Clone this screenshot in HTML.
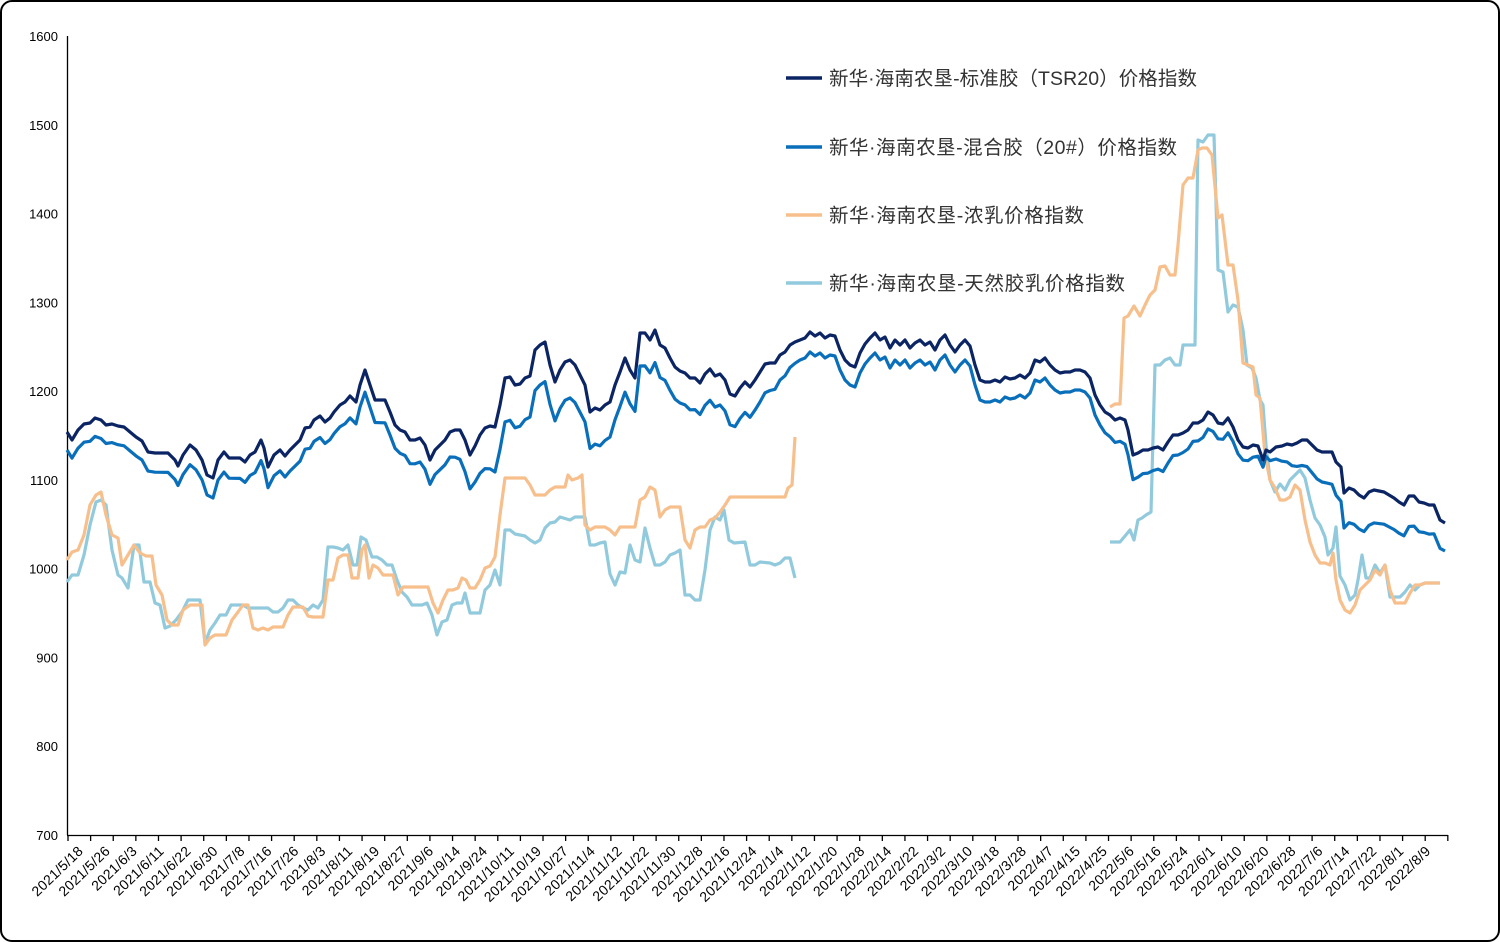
<!DOCTYPE html>
<html><head><meta charset="utf-8"><style>
html,body{margin:0;padding:0;background:#fff}
#f{position:absolute;left:0;top:0;width:1496px;height:938px;border:2px solid #000;border-radius:12px;overflow:hidden}
svg text{font-family:"Liberation Sans","Noto Sans CJK SC",sans-serif}
</style></head><body>
<div id="f"></div>
<svg id="s" width="1500" height="942" style="position:absolute;left:0;top:0">
<g id="ax"></g>
<g fill="none" stroke-width="3.2" stroke-linejoin="round">
<polyline id="lb1" stroke="#92cadd"/>
<polyline id="lb2" stroke="#92cadd"/>
<polyline id="or1" stroke="#f7bf8c"/>
<polyline id="or2" stroke="#f7bf8c"/>
<polyline id="bl" stroke="#0a6fba"/>
<polyline id="nv" stroke="#0b2463"/>
</g>
<g stroke-width="3.5">
<line x1="786" y1="78" x2="822" y2="78" stroke="#0b2463"/>
<line x1="786" y1="147" x2="822" y2="147" stroke="#0a6fba"/>
<line x1="786" y1="215" x2="822" y2="215" stroke="#f7bf8c"/>
<line x1="786" y1="283" x2="822" y2="283" stroke="#92cadd"/>
</g>
<g font-size="19.5" fill="#333">
<text x="829" y="85" textLength="368">新华·海南农垦-标准胶（TSR20）价格指数</text>
<text x="829" y="154" textLength="348">新华·海南农垦-混合胶（20#）价格指数</text>
<text x="829" y="222" textLength="255">新华·海南农垦-浓乳价格指数</text>
<text x="829" y="290" textLength="296">新华·海南农垦-天然胶乳价格指数</text>
</g>
</svg>
<script>
function P(id,a){document.getElementById(id).setAttribute('points',a.map(p=>p.join(',')).join(' '));}
const nv=[[67,432],[72,440],[78,430],[84,424],[90,423],[95,418],[101,420],[106,425],[112,424],[118,426],[124,427],[130,432],[136,437],[142,441],[148,452],[155,453],[162,453],[168,453],[175,460],[178,466],[183,455],[190,445],[196,450],[202,460],[207,475],[213,478],[218,460],[224,452],[229,458],[234,458],[240,458],[245,462],[250,455],[255,452],[261,440],[264,448],[268,467],[274,455],[280,450],[285,456],[290,450],[295,445],[300,440],[305,428],[310,427],[314,420],[320,416],[325,422],[330,418],[334,412],[340,405],[345,402],[350,396],[356,402],[360,385],[365,370],[370,385],[375,400],[380,400],[385,400],[390,412],[395,425],[400,430],[405,432],[410,440],[415,440],[420,438],[425,445],[430,460],[435,450],[440,445],[445,440],[450,432],[455,430],[460,430],[465,440],[470,455],[475,446],[480,435],[485,428],[490,426],[495,427],[500,405],[505,378],[510,377],[515,385],[520,384],[525,378],[530,376],[535,350],[540,345],[545,342],[550,365],[555,382],[560,370],[565,362],[570,360],[575,365],[580,375],[585,385],[590,412],[595,408],[600,410],[605,405],[610,402],[615,385],[620,372],[625,358],[630,370],[635,378],[640,333],[645,333],[650,340],[655,330],[660,345],[665,348],[670,358],[675,367],[680,371],[685,373],[690,378],[695,378],[700,383],[705,374],[710,369],[715,376],[720,374],[725,380],[730,394],[735,396],[740,388],[745,382],[750,387],[755,380],[760,372],[765,364],[770,363],[775,363],[780,355],[785,352],[790,345],[795,342],[800,340],[805,338],[810,332],[815,336],[820,333],[825,338],[830,335],[835,336],[840,350],[845,360],[850,365],[855,367],[860,353],[865,344],[870,338],[875,333],[880,340],[885,337],[890,348],[895,340],[900,345],[905,340],[910,348],[915,343],[920,340],[925,345],[930,342],[935,350],[940,340],[945,335],[950,345],[955,352],[960,345],[965,340],[970,346],[975,365],[980,380],[985,382],[990,382],[995,380],[1000,382],[1005,377],[1010,379],[1015,378],[1020,375],[1025,378],[1030,373],[1035,360],[1040,362],[1045,358],[1050,365],[1055,370],[1060,373],[1065,372],[1070,372],[1075,370],[1080,370],[1085,372],[1090,378],[1095,395],[1100,405],[1105,412],[1110,415],[1115,420],[1120,418],[1125,420],[1128,430],[1133,455],[1138,453],[1143,450],[1148,450],[1153,448],[1158,447],[1163,450],[1168,442],[1173,435],[1178,435],[1183,433],[1188,430],[1193,423],[1198,423],[1203,420],[1208,412],[1213,415],[1218,423],[1223,424],[1228,418],[1233,427],[1238,440],[1243,447],[1248,448],[1253,445],[1258,446],[1263,460],[1266,450],[1270,452],[1276,447],[1282,446],[1287,444],[1292,445],[1297,443],[1302,440],[1307,440],[1312,445],[1317,450],[1322,452],[1327,452],[1332,452],[1336,462],[1341,467],[1344,493],[1349,488],[1354,490],[1359,495],[1364,498],[1369,492],[1374,490],[1379,491],[1384,492],[1389,495],[1394,498],[1399,502],[1404,505],[1409,496],[1414,496],[1419,502],[1424,503],[1429,505],[1434,505],[1440,520],[1445,523]];
const off=[[67,18],[360,22],[450,25],[495,45],[540,40],[640,33],[760,30],[800,20],[1100,20],[1130,25],[1255,12],[1265,6],[1300,25],[1344,35],[1445,28]];
function o(x){for(let i=1;i<off.length;i++){if(x<=off[i][0]){const a=off[i-1],b=off[i];return a[1]+(b[1]-a[1])*(x-a[0])/(b[0]-a[0]);}}return off[off.length-1][1];}
P('nv',nv);P('bl',nv.map(p=>[p[0],+(p[1]+o(p[0])).toFixed(1)]));
P('or1',[[67,560],[72,552],[78,550],[84,535],[90,505],[96,495],[101,492],[106,515],[112,535],[118,538],[122,565],[128,555],[134,545],[140,553],[146,556],[152,556],[156,585],[162,595],[167,620],[172,625],[178,625],[183,610],[190,605],[196,605],[202,605],[205,645],[210,638],[215,635],[220,635],[226,635],[232,620],[238,612],[243,605],[248,605],[253,628],[258,630],[263,628],[268,630],[273,627],[278,627],[283,627],[288,615],[293,607],[298,607],[303,607],[308,616],[313,617],[318,617],[323,617],[328,580],[333,580],[338,558],[343,555],[348,555],[352,578],[358,578],[362,550],[365,545],[369,578],[373,565],[378,568],[383,575],[388,575],[393,575],[398,595],[403,587],[408,587],[413,587],[418,587],[423,587],[428,587],[433,603],[438,613],[443,600],[448,590],[453,590],[458,588],[462,578],[466,580],[470,588],[475,588],[480,580],[485,568],[490,566],[495,557],[500,515],[505,478],[510,478],[515,478],[520,478],[525,478],[530,485],[535,495],[540,495],[545,495],[550,490],[555,487],[560,487],[565,487],[568,475],[572,480],[578,478],[582,475],[585,525],[590,530],[595,527],[600,527],[605,527],[610,530],[615,535],[620,527],[625,527],[630,527],[635,527],[640,500],[645,497],[650,487],[655,490],[660,517],[665,510],[670,507],[675,507],[680,507],[685,540],[690,548],[695,530],[700,527],[705,527],[710,520],[715,518],[720,512],[725,505],[730,497],[785,497],[788,488],[792,485],[795,437]]);
P('lb1',[[67,582],[72,575],[78,575],[84,555],[90,525],[96,502],[101,500],[106,505],[112,550],[118,575],[122,578],[128,588],[134,545],[139,545],[144,582],[150,582],[155,603],[160,605],[165,628],[170,626],[176,620],[182,612],[188,600],[194,600],[200,600],[205,643],[210,630],[215,623],[220,615],[226,615],[231,605],[237,605],[243,605],[248,608],[268,608],[273,612],[278,612],[283,608],[288,600],[293,600],[298,605],[303,608],[308,610],[313,605],[318,608],[323,600],[328,547],[333,547],[338,548],[343,550],[348,545],[353,565],[357,565],[361,537],[366,540],[372,557],[377,557],[382,560],[387,565],[392,565],[397,580],[402,592],[407,597],[412,605],[422,605],[427,603],[432,615],[437,635],[442,622],[447,620],[452,605],[457,603],[462,603],[465,593],[470,613],[480,613],[485,590],[490,585],[495,570],[500,585],[505,530],[510,530],[515,534],[520,535],[525,536],[530,540],[535,543],[540,540],[545,528],[550,523],[555,522],[560,517],[570,520],[575,517],[585,517],[590,545],[595,545],[600,543],[605,542],[610,574],[615,585],[620,572],[625,573],[630,545],[635,560],[640,562],[645,528],[650,548],[655,565],[660,565],[665,562],[670,555],[675,553],[680,550],[685,595],[690,595],[695,600],[700,600],[705,570],[710,530],[715,517],[720,520],[724,510],[729,540],[734,543],[745,542],[750,565],[755,565],[760,562],[770,563],[775,565],[780,563],[785,558],[790,558],[795,578]]);
P('or2',[[1110,407],[1115,404],[1120,404],[1124,318],[1128,316],[1134,306],[1140,316],[1145,305],[1150,295],[1155,290],[1160,267],[1165,266],[1170,275],[1175,275],[1178,245],[1183,185],[1188,178],[1193,178],[1198,150],[1202,148],[1207,148],[1212,155],[1218,218],[1222,215],[1228,265],[1233,265],[1238,300],[1243,363],[1248,365],[1253,367],[1256,395],[1260,398],[1265,455],[1270,480],[1275,488],[1280,500],[1285,500],[1290,497],[1295,485],[1300,490],[1305,520],[1310,542],[1315,555],[1320,563],[1325,563],[1330,565],[1333,553],[1336,580],[1340,600],[1345,610],[1350,613],[1355,605],[1360,590],[1365,585],[1370,580],[1375,570],[1380,575],[1385,565],[1390,590],[1395,603],[1405,603],[1410,593],[1415,585],[1420,585],[1425,583],[1440,583]]);
P('lb2',[[1110,542],[1120,542],[1125,536],[1130,530],[1134,540],[1138,520],[1142,518],[1146,515],[1151,512],[1155,365],[1160,365],[1165,360],[1170,358],[1175,365],[1180,365],[1183,345],[1195,345],[1198,140],[1203,142],[1208,135],[1214,135],[1218,270],[1223,272],[1228,312],[1233,305],[1238,307],[1243,330],[1247,365],[1252,368],[1256,378],[1260,400],[1263,405],[1266,445],[1270,480],[1275,492],[1280,484],[1285,490],[1290,480],[1295,475],[1300,470],[1305,478],[1310,500],[1315,518],[1320,525],[1325,537],[1328,555],[1333,548],[1336,527],[1340,576],[1345,585],[1350,600],[1355,595],[1358,580],[1362,555],[1366,578],[1370,578],[1375,565],[1380,573],[1385,565],[1390,597],[1400,597],[1405,592],[1410,585],[1415,590],[1420,585],[1425,583],[1440,583]]);
let h='<line x1="67.5" y1="36" x2="67.5" y2="835" stroke="#000" stroke-width="1.3"/><line x1="67" y1="835.5" x2="1448" y2="835.5" stroke="#000" stroke-width="1.3"/>';
for(let v=700;v<=1600;v+=100){const y=835-(v-700)*0.8878;h+=`<text x="58" y="${y+5}" font-size="13" text-anchor="end" fill="#000">${v}</text>`;}
for(let i=0;i<=61;i++){const x=68+i*22.62;h+=`<line x1="${x}" y1="835" x2="${x}" y2="841" stroke="#000" stroke-width="1.3"/>`;}
const L="2021/5/18,2021/5/26,2021/6/3,2021/6/11,2021/6/22,2021/6/30,2021/7/8,2021/7/16,2021/7/26,2021/8/3,2021/8/11,2021/8/19,2021/8/27,2021/9/6,2021/9/14,2021/9/24,2021/10/11,2021/10/19,2021/10/27,2021/11/4,2021/11/12,2021/11/22,2021/11/30,2021/12/8,2021/12/16,2021/12/24,2022/1/4,2022/1/12,2022/1/20,2022/1/28,2022/2/14,2022/2/22,2022/3/2,2022/3/10,2022/3/18,2022/3/28,2022/4/7,2022/4/15,2022/4/25,2022/5/6,2022/5/16,2022/5/24,2022/6/1,2022/6/10,2022/6/20,2022/6/28,2022/7/6,2022/7/14,2022/7/22,2022/8/1,2022/8/9".split(',');
L.forEach((t,i)=>{const x=84+i*26.95,y=852;h+=`<text x="${x}" y="${y}" font-size="14" letter-spacing="0.3" text-anchor="end" fill="#000" transform="rotate(-44 ${x} ${y})">${t}</text>`;});
document.getElementById('ax').innerHTML=h;
</script>
</body></html>
